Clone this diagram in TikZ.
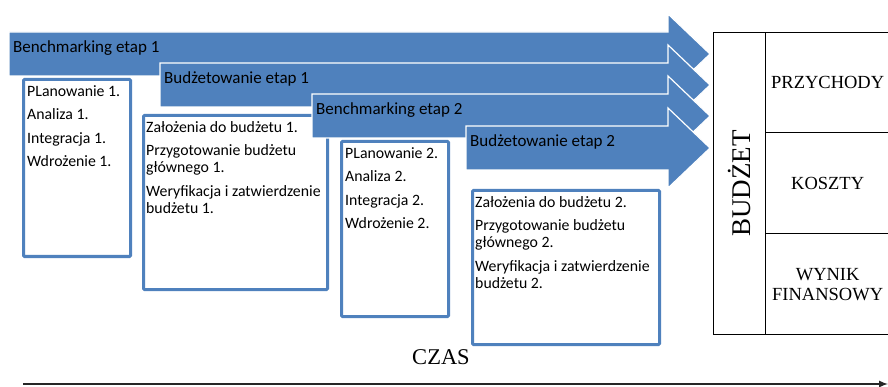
\documentclass[tikz,border=0pt]{standalone}
\usepackage{fontspec}
\setmainfont{Carlito}
\newfontfamily\timesfont{Liberation Serif}
\usepackage{xcolor}
\usetikzlibrary{arrows, positioning, calc}
\definecolor{etapblue}{HTML}{4F81BD}
\tikzset{
  etaparrow/.style={fill=etapblue, draw=white, line width=1.2pt},
  arrowtext/.style={inner sep=0pt, font=\fontsize{17}{20}\selectfont},
  etapbox/.style={draw=etapblue, line width=3pt, fill=white, rounded corners=1pt, anchor=north west},
  boxtext/.style={inner sep=0pt, align=left, anchor=north west, font=\fontsize{15.8}{17}\selectfont},
  cell/.style={draw=black, line width=1.3pt, anchor=north west, inner sep=0pt, align=center, font=\timesfont\fontsize{18.5}{20}\selectfont}
}

\begin{document}
\begin{tikzpicture}[x=1pt, y=-1pt]
      \useasboundingbox (0,0) rectangle (888,387);

      % etapy - ramki z zadaniami
      \node[etapbox, minimum width=107, minimum height=177] (box1) at (22,78) {};
      \node[boxtext] (txt1) at ([shift={(5,7)}]box1.north west)
        {PLanowanie 1.\\[6.5pt] Analiza 1.\\[6.5pt] Integracja 1.\\[6.5pt] Wdrożenie 1.};

      \node[etapbox, minimum width=184, minimum height=174] (box2) at (142,114) {};
      \node[boxtext] (txt2) at ([shift={(4,7)}]box2.north west)
        {Założenia do budżetu 1.\\[6.5pt] Przygotowanie budżetu\\ głównego 1.\\[6.5pt] Weryfikacja i zatwierdzenie\\ budżetu 1.};

      \node[etapbox, minimum width=107, minimum height=175] (box3) at (340,140) {};
      \node[boxtext] (txt3) at ([shift={(5,7)}]box3.north west)
        {PLanowanie 2.\\[6.5pt] Analiza 2.\\[6.5pt] Integracja 2.\\[6.5pt] Wdrożenie 2.};

      \node[etapbox, minimum width=187, minimum height=154] (box4) at (471,189) {};
      \node[boxtext] (txt4) at ([shift={(4,7)}]box4.north west)
        {Założenia do budżetu 2.\\[6.5pt] Przygotowanie budżetu\\ głównego 2.\\[6.5pt] Weryfikacja i zatwierdzenie\\ budżetu 2.};

      % strzalki etapow
      \foreach \x/\c/\name [count=\i] in {9/54/Benchmarking etap 1, 160/85/Budżetowanie etap 1,
                                          312/116/Benchmarking etap 2, 466/148/Budżetowanie etap 2} {
        \draw[etaparrow] (\x,\c-22) -- (668,\c-22) -- (668,\c-40) -- (710,\c)
              -- (668,\c+40) -- (668,\c+22) -- (\x,\c+22) -- cycle;
        \node[arrowtext, anchor=base west] (etap\i) at (\x+4,\c-1) {\name};
      }

      % budzet
      \node[cell, minimum width=52, minimum height=302] (budzet) at (713,32)
        {\rotatebox{90}{\fontsize{27}{30}\selectfont BUDŻET}};
      \node[cell, minimum width=124, minimum height=100] (przychody) at (765,32) {PRZYCHODY};
      \node[cell, minimum width=124, minimum height=101] (koszty) at (765,132) {KOSZTY};
      \node[cell, minimum width=124, minimum height=101] (wynik) at (765,233) {WYNIK\\ FINANSOWY};

      % os czasu
      \node[font=\timesfont\fontsize{22.5}{26}\selectfont] (czas) at (441,357) {CZAS};
      \coordinate (t0) at (23,384);
      \coordinate (t1) at (888,384);
      \draw[-latex, line width=2pt, black!85] (t0) -- (t1);

\end{tikzpicture}
\end{document}
